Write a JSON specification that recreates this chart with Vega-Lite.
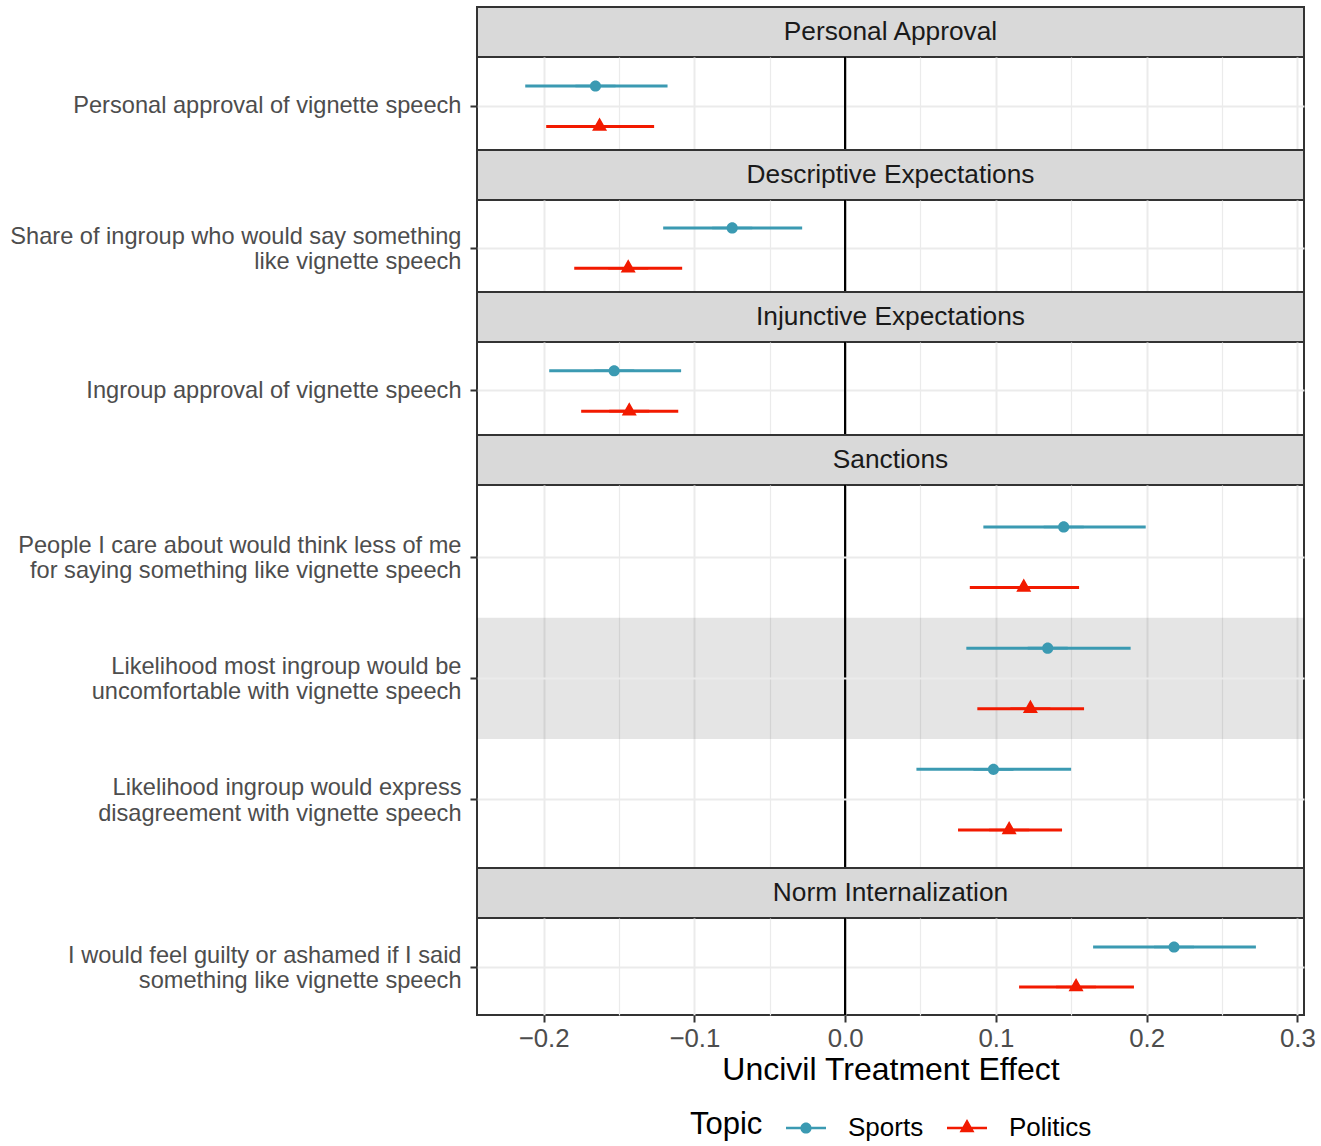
{
  "$schema": "https://vega.github.io/schema/vega-lite/v6.json",
  "padding": {"left": 8, "top": 6, "right": 16, "bottom": 0},
  "background": "white",
  "config": {
    "font": "Liberation Sans",
    "axis": {"labelFont": "Liberation Sans", "titleFont": "Liberation Sans"},
    "legend": {"labelFont": "Liberation Sans", "titleFont": "Liberation Sans"}
  },
  "datasets": {
    "effects": [
      {"panel": "Personal Approval", "item": "Personal approval of vignette speech", "Topic": "Sports", "est": -0.1656, "lo": -0.2122, "hi": -0.1178},
      {"panel": "Personal Approval", "item": "Personal approval of vignette speech", "Topic": "Politics", "est": -0.1629, "lo": -0.1983, "hi": -0.1267},
      {"panel": "Descriptive Expectations", "item": "Share of ingroup who would say something\nlike vignette speech", "Topic": "Sports", "est": -0.0749, "lo": -0.1207, "hi": -0.0285},
      {"panel": "Descriptive Expectations", "item": "Share of ingroup who would say something\nlike vignette speech", "Topic": "Politics", "est": -0.1439, "lo": -0.1797, "hi": -0.1081},
      {"panel": "Injunctive Expectations", "item": "Ingroup approval of vignette speech", "Topic": "Sports", "est": -0.1532, "lo": -0.1963, "hi": -0.1088},
      {"panel": "Injunctive Expectations", "item": "Ingroup approval of vignette speech", "Topic": "Politics", "est": -0.1432, "lo": -0.1751, "hi": -0.1107},
      {"panel": "Sanctions", "item": "People I care about would think less of me\nfor saying something like vignette speech", "Topic": "Sports", "est": 0.145, "lo": 0.0917, "hi": 0.1994},
      {"panel": "Sanctions", "item": "People I care about would think less of me\nfor saying something like vignette speech", "Topic": "Politics", "est": 0.1185, "lo": 0.0827, "hi": 0.1552},
      {"panel": "Sanctions", "item": "Likelihood most ingroup would be\nuncomfortable with vignette speech", "Topic": "Sports", "est": 0.1344, "lo": 0.0804, "hi": 0.1894},
      {"panel": "Sanctions", "item": "Likelihood most ingroup would be\nuncomfortable with vignette speech", "Topic": "Politics", "est": 0.1229, "lo": 0.0877, "hi": 0.1585},
      {"panel": "Sanctions", "item": "Likelihood ingroup would express\ndisagreement with vignette speech", "Topic": "Sports", "est": 0.0984, "lo": 0.0473, "hi": 0.1499},
      {"panel": "Sanctions", "item": "Likelihood ingroup would express\ndisagreement with vignette speech", "Topic": "Politics", "est": 0.1088, "lo": 0.0749, "hi": 0.1439},
      {"panel": "Norm Internalization", "item": "I would feel guilty or ashamed if I said\nsomething like vignette speech", "Topic": "Sports", "est": 0.2182, "lo": 0.1645, "hi": 0.2725},
      {"panel": "Norm Internalization", "item": "I would feel guilty or ashamed if I said\nsomething like vignette speech", "Topic": "Politics", "est": 0.1532, "lo": 0.1154, "hi": 0.1916}
    ],
    "highlight": [
      {"item": "Likelihood most ingroup would be\nuncomfortable with vignette speech"}
    ]
  },
  "vconcat": [
    {
      "width": 827, "height": 50,
      "view": {"fill": "#D9D9D9", "stroke": "#333333", "strokeWidth": 2},
      "data": {"values": [{"strip": "Personal Approval"}]},
      "mark": {"type": "text", "fontSize": 26.3, "color": "#1A1A1A"},
      "encoding": {"text": {"field": "strip"}}
    },
    {
      "width": 827, "height": 93,
      "view": {"stroke": "#333333", "strokeWidth": 2},
      "data": {"name": "effects"},
      "transform": [{"filter": "datum.panel === 'Personal Approval'"}],
      "layer": [
        {
          "data": {"values": [{}]},
          "mark": {"type": "rule", "color": "black", "strokeWidth": 2.2},
          "encoding": {"x": {"datum": 0, "type": "quantitative"}}
        },
        {
          "mark": {"type": "rule", "strokeWidth": 3},
          "encoding": {
            "x": {"field": "lo", "type": "quantitative", "scale": {"domain": [-0.2442, 0.3044], "nice": false, "zero": false},
              "axis": {"values": [-0.2, -0.15, -0.1, -0.05, 0, 0.05, 0.1, 0.15, 0.2, 0.25, 0.3], "labels": false, "ticks": false, "domain": false, "title": null, "grid": true, "gridColor": "#EBEBEB",
                "gridWidth": {"condition": {"test": "abs(round(datum.value*20)) % 2 === 1", "value": 1.2}, "value": 2}}},
            "x2": {"field": "hi"},
            "y": {"field": "item", "type": "nominal", "sort": null, "scale": {"type": "band", "paddingInner": 0, "paddingOuter": 0.076, "align": 0.72},
              "axis": {"title": null, "domain": false, "tickSize": 7, "tickWidth": 2, "tickColor": "#333333", "labelPadding": 9, "labelFontSize": 23.6, "labelColor": "#4D4D4D", "labelLineHeight": 25.5, "labelLimit": 600, "labelExpr": "split(datum.value, '\\n')",
                "labelOffset": {"condition": {"test": "indexof(datum.value, '\\n') >= 0", "value": -11.5}, "value": 0},
                "grid": true, "gridColor": "#EBEBEB", "gridWidth": 2, "bandPosition": 0.5}},
            "yOffset": {"field": "Topic", "type": "nominal", "sort": ["Sports", "Politics"], "scale": {"domain": ["Sports", "Politics"], "paddingInner": 0, "paddingOuter": 0}},
            "color": {"field": "Topic", "type": "nominal", "scale": {"domain": ["Sports", "Politics"], "range": ["#3B9AB2", "#F21A00"]}}
          }
        },
        {
          "mark": {"type": "point", "filled": true, "opacity": 1, "size": 1600, "strokeWidth": 0},
          "encoding": {
            "x": {"field": "est", "type": "quantitative"},
            "y": {"field": "item", "type": "nominal", "sort": null},
            "yOffset": {"field": "Topic", "type": "nominal", "sort": ["Sports", "Politics"], "scale": {"domain": ["Sports", "Politics"], "paddingInner": 0, "paddingOuter": 0}},
            "color": {"field": "Topic", "type": "nominal", "scale": {"domain": ["Sports", "Politics"], "range": ["#3B9AB2", "#F21A00"]}},
            "shape": {"field": "Topic", "type": "nominal", "scale": {"domain": ["Sports", "Politics"], "range": ["M-1,-0.065H-0.27V0.065H-1Z M0.27,-0.065H1V0.065H0.27Z M-0.28,0A0.28,0.28 0 1,1 0.28,0A0.28,0.28 0 1,1 -0.28,0Z", "M-1,-0.065H-0.2V0.065H-1Z M0.2,-0.065H1V0.065H0.2Z M0,-0.45L0.375,0.215L-0.375,0.215Z"]}}
          }
        }
      ]
    },
    {
      "width": 827, "height": 50,
      "view": {"fill": "#D9D9D9", "stroke": "#333333", "strokeWidth": 2},
      "data": {"values": [{"strip": "Descriptive Expectations"}]},
      "mark": {"type": "text", "fontSize": 26.3, "color": "#1A1A1A"},
      "encoding": {"text": {"field": "strip"}}
    },
    {
      "width": 827, "height": 92,
      "view": {"stroke": "#333333", "strokeWidth": 2},
      "data": {"name": "effects"},
      "transform": [{"filter": "datum.panel === 'Descriptive Expectations'"}],
      "layer": [
        {
          "data": {"values": [{}]},
          "mark": {"type": "rule", "color": "black", "strokeWidth": 2.2},
          "encoding": {"x": {"datum": 0, "type": "quantitative"}}
        },
        {
          "mark": {"type": "rule", "strokeWidth": 3},
          "encoding": {
            "x": {"field": "lo", "type": "quantitative", "scale": {"domain": [-0.2442, 0.3044], "nice": false, "zero": false},
              "axis": {"values": [-0.2, -0.15, -0.1, -0.05, 0, 0.05, 0.1, 0.15, 0.2, 0.25, 0.3], "labels": false, "ticks": false, "domain": false, "title": null, "grid": true, "gridColor": "#EBEBEB",
                "gridWidth": {"condition": {"test": "abs(round(datum.value*20)) % 2 === 1", "value": 1.2}, "value": 2}}},
            "x2": {"field": "hi"},
            "y": {"field": "item", "type": "nominal", "sort": null, "scale": {"type": "band", "paddingInner": 0, "paddingOuter": 0.07, "align": 0.69},
              "axis": {"title": null, "domain": false, "tickSize": 7, "tickWidth": 2, "tickColor": "#333333", "labelPadding": 9, "labelFontSize": 23.6, "labelColor": "#4D4D4D", "labelLineHeight": 25.5, "labelLimit": 600, "labelExpr": "split(datum.value, '\\n')",
                "labelOffset": {"condition": {"test": "indexof(datum.value, '\\n') >= 0", "value": -11.5}, "value": 0},
                "grid": true, "gridColor": "#EBEBEB", "gridWidth": 2, "bandPosition": 0.5}},
            "yOffset": {"field": "Topic", "type": "nominal", "sort": ["Sports", "Politics"], "scale": {"domain": ["Sports", "Politics"], "paddingInner": 0, "paddingOuter": 0}},
            "color": {"field": "Topic", "type": "nominal", "scale": {"domain": ["Sports", "Politics"], "range": ["#3B9AB2", "#F21A00"]}}
          }
        },
        {
          "mark": {"type": "point", "filled": true, "opacity": 1, "size": 1600, "strokeWidth": 0},
          "encoding": {
            "x": {"field": "est", "type": "quantitative"},
            "y": {"field": "item", "type": "nominal", "sort": null},
            "yOffset": {"field": "Topic", "type": "nominal", "sort": ["Sports", "Politics"], "scale": {"domain": ["Sports", "Politics"], "paddingInner": 0, "paddingOuter": 0}},
            "color": {"field": "Topic", "type": "nominal", "scale": {"domain": ["Sports", "Politics"], "range": ["#3B9AB2", "#F21A00"]}},
            "shape": {"field": "Topic", "type": "nominal", "scale": {"domain": ["Sports", "Politics"], "range": ["M-1,-0.065H-0.27V0.065H-1Z M0.27,-0.065H1V0.065H0.27Z M-0.28,0A0.28,0.28 0 1,1 0.28,0A0.28,0.28 0 1,1 -0.28,0Z", "M-1,-0.065H-0.2V0.065H-1Z M0.2,-0.065H1V0.065H0.2Z M0,-0.45L0.375,0.215L-0.375,0.215Z"]}}
          }
        }
      ]
    },
    {
      "width": 827, "height": 50,
      "view": {"fill": "#D9D9D9", "stroke": "#333333", "strokeWidth": 2},
      "data": {"values": [{"strip": "Injunctive Expectations"}]},
      "mark": {"type": "text", "fontSize": 26.3, "color": "#1A1A1A"},
      "encoding": {"text": {"field": "strip"}}
    },
    {
      "width": 827, "height": 93,
      "view": {"stroke": "#333333", "strokeWidth": 2},
      "data": {"name": "effects"},
      "transform": [{"filter": "datum.panel === 'Injunctive Expectations'"}],
      "layer": [
        {
          "data": {"values": [{}]},
          "mark": {"type": "rule", "color": "black", "strokeWidth": 2.2},
          "encoding": {"x": {"datum": 0, "type": "quantitative"}}
        },
        {
          "mark": {"type": "rule", "strokeWidth": 3},
          "encoding": {
            "x": {"field": "lo", "type": "quantitative", "scale": {"domain": [-0.2442, 0.3044], "nice": false, "zero": false},
              "axis": {"values": [-0.2, -0.15, -0.1, -0.05, 0, 0.05, 0.1, 0.15, 0.2, 0.25, 0.3], "labels": false, "ticks": false, "domain": false, "title": null, "grid": true, "gridColor": "#EBEBEB",
                "gridWidth": {"condition": {"test": "abs(round(datum.value*20)) % 2 === 1", "value": 1.2}, "value": 2}}},
            "x2": {"field": "hi"},
            "y": {"field": "item", "type": "nominal", "sort": null, "scale": {"type": "band", "paddingInner": 0, "paddingOuter": 0.076, "align": 0.7},
              "axis": {"title": null, "domain": false, "tickSize": 7, "tickWidth": 2, "tickColor": "#333333", "labelPadding": 9, "labelFontSize": 23.6, "labelColor": "#4D4D4D", "labelLineHeight": 25.5, "labelLimit": 600, "labelExpr": "split(datum.value, '\\n')",
                "labelOffset": {"condition": {"test": "indexof(datum.value, '\\n') >= 0", "value": -11.5}, "value": 0},
                "grid": true, "gridColor": "#EBEBEB", "gridWidth": 2, "bandPosition": 0.5}},
            "yOffset": {"field": "Topic", "type": "nominal", "sort": ["Sports", "Politics"], "scale": {"domain": ["Sports", "Politics"], "paddingInner": 0, "paddingOuter": 0}},
            "color": {"field": "Topic", "type": "nominal", "scale": {"domain": ["Sports", "Politics"], "range": ["#3B9AB2", "#F21A00"]}}
          }
        },
        {
          "mark": {"type": "point", "filled": true, "opacity": 1, "size": 1600, "strokeWidth": 0},
          "encoding": {
            "x": {"field": "est", "type": "quantitative"},
            "y": {"field": "item", "type": "nominal", "sort": null},
            "yOffset": {"field": "Topic", "type": "nominal", "sort": ["Sports", "Politics"], "scale": {"domain": ["Sports", "Politics"], "paddingInner": 0, "paddingOuter": 0}},
            "color": {"field": "Topic", "type": "nominal", "scale": {"domain": ["Sports", "Politics"], "range": ["#3B9AB2", "#F21A00"]}},
            "shape": {"field": "Topic", "type": "nominal", "scale": {"domain": ["Sports", "Politics"], "range": ["M-1,-0.065H-0.27V0.065H-1Z M0.27,-0.065H1V0.065H0.27Z M-0.28,0A0.28,0.28 0 1,1 0.28,0A0.28,0.28 0 1,1 -0.28,0Z", "M-1,-0.065H-0.2V0.065H-1Z M0.2,-0.065H1V0.065H0.2Z M0,-0.45L0.375,0.215L-0.375,0.215Z"]}}
          }
        }
      ]
    },
    {
      "width": 827, "height": 50,
      "view": {"fill": "#D9D9D9", "stroke": "#333333", "strokeWidth": 2},
      "data": {"values": [{"strip": "Sanctions"}]},
      "mark": {"type": "text", "fontSize": 26.3, "color": "#1A1A1A"},
      "encoding": {"text": {"field": "strip"}}
    },
    {
      "width": 827, "height": 383,
      "view": {"stroke": "#333333", "strokeWidth": 2},
      "data": {"name": "effects"},
      "transform": [{"filter": "datum.panel === 'Sanctions'"}],
      "layer": [
        {
          "data": {"name": "highlight"},
          "mark": {"type": "rect", "color": "black", "opacity": 0.1},
          "encoding": {
            "y": {"field": "item", "type": "nominal"},
            "x": {"value": 0},
            "x2": {"value": "width"}
          }
        },
        {
          "data": {"values": [{}]},
          "mark": {"type": "rule", "color": "black", "strokeWidth": 2.2},
          "encoding": {"x": {"datum": 0, "type": "quantitative"}}
        },
        {
          "mark": {"type": "rule", "strokeWidth": 3},
          "encoding": {
            "x": {"field": "lo", "type": "quantitative", "scale": {"domain": [-0.2442, 0.3044], "nice": false, "zero": false},
              "axis": {"values": [-0.2, -0.15, -0.1, -0.05, 0, 0.05, 0.1, 0.15, 0.2, 0.25, 0.3], "labels": false, "ticks": false, "domain": false, "title": null, "grid": true, "gridColor": "#EBEBEB",
                "gridWidth": {"condition": {"test": "abs(round(datum.value*20)) % 2 === 1", "value": 1.2}, "value": 2}}},
            "x2": {"field": "hi"},
            "y": {"field": "item", "type": "nominal", "sort": null,
              "scale": {"type": "band", "paddingInner": 0, "paddingOuter": 0.08, "align": 0.6,
                "domain": ["People I care about would think less of me\nfor saying something like vignette speech", "Likelihood most ingroup would be\nuncomfortable with vignette speech", "Likelihood ingroup would express\ndisagreement with vignette speech"]},
              "axis": {"title": null, "domain": false, "tickSize": 7, "tickWidth": 2, "tickColor": "#333333", "labelPadding": 9, "labelFontSize": 23.6, "labelColor": "#4D4D4D", "labelLineHeight": 25.5, "labelLimit": 600, "labelExpr": "split(datum.value, '\\n')",
                "labelOffset": {"condition": {"test": "indexof(datum.value, '\\n') >= 0", "value": -11.5}, "value": 0},
                "grid": true, "gridColor": "#EBEBEB", "gridWidth": 2, "bandPosition": 0.5}},
            "yOffset": {"field": "Topic", "type": "nominal", "sort": ["Sports", "Politics"], "scale": {"domain": ["Sports", "Politics"], "paddingInner": 0, "paddingOuter": 0}},
            "color": {"field": "Topic", "type": "nominal", "scale": {"domain": ["Sports", "Politics"], "range": ["#3B9AB2", "#F21A00"]}}
          }
        },
        {
          "mark": {"type": "point", "filled": true, "opacity": 1, "size": 1600, "strokeWidth": 0},
          "encoding": {
            "x": {"field": "est", "type": "quantitative"},
            "y": {"field": "item", "type": "nominal", "sort": null},
            "yOffset": {"field": "Topic", "type": "nominal", "sort": ["Sports", "Politics"], "scale": {"domain": ["Sports", "Politics"], "paddingInner": 0, "paddingOuter": 0}},
            "color": {"field": "Topic", "type": "nominal", "scale": {"domain": ["Sports", "Politics"], "range": ["#3B9AB2", "#F21A00"]}},
            "shape": {"field": "Topic", "type": "nominal", "scale": {"domain": ["Sports", "Politics"], "range": ["M-1,-0.065H-0.27V0.065H-1Z M0.27,-0.065H1V0.065H0.27Z M-0.28,0A0.28,0.28 0 1,1 0.28,0A0.28,0.28 0 1,1 -0.28,0Z", "M-1,-0.065H-0.2V0.065H-1Z M0.2,-0.065H1V0.065H0.2Z M0,-0.45L0.375,0.215L-0.375,0.215Z"]}}
          }
        }
      ]
    },
    {
      "width": 827, "height": 50,
      "view": {"fill": "#D9D9D9", "stroke": "#333333", "strokeWidth": 2},
      "data": {"values": [{"strip": "Norm Internalization"}]},
      "mark": {"type": "text", "fontSize": 26.3, "color": "#1A1A1A"},
      "encoding": {"text": {"field": "strip"}}
    },
    {
      "width": 827, "height": 97,
      "view": {"stroke": "#333333", "strokeWidth": 2},
      "data": {"name": "effects"},
      "transform": [{"filter": "datum.panel === 'Norm Internalization'"}],
      "layer": [
        {
          "data": {"values": [{}]},
          "mark": {"type": "rule", "color": "black", "strokeWidth": 2.2},
          "encoding": {"x": {"datum": 0, "type": "quantitative"}}
        },
        {
          "mark": {"type": "rule", "strokeWidth": 3},
          "encoding": {
            "x": {"field": "lo", "type": "quantitative", "scale": {"domain": [-0.2442, 0.3044], "nice": false, "zero": false},
              "axis": {"values": [-0.2, -0.15, -0.1, -0.05, 0, 0.05, 0.1, 0.15, 0.2, 0.25, 0.3], "format": ".1f",
                "labelExpr": "abs(round(datum.value*20)) % 2 === 1 ? '' : datum.label",
                "labelFontSize": 25.8, "labelColor": "#4D4D4D", "labelPadding": 4.5, "labelFlush": false, "labelOverlap": false,
                "ticks": true, "tickSize": 7, "tickWidth": 2, "tickColor": "#333333",
                "tickOpacity": {"condition": {"test": "abs(round(datum.value*20)) % 2 === 1", "value": 0}, "value": 1},
                "domain": false, "grid": true, "gridColor": "#EBEBEB",
                "gridWidth": {"condition": {"test": "abs(round(datum.value*20)) % 2 === 1", "value": 1.2}, "value": 2},
                "title": "Uncivil Treatment Effect", "titleFontSize": 32, "titleFontWeight": "normal", "titleColor": "black", "titlePadding": 3}},
            "x2": {"field": "hi"},
            "y": {"field": "item", "type": "nominal", "sort": null, "scale": {"type": "band", "paddingInner": 0, "paddingOuter": 0.106, "align": 0.53},
              "axis": {"title": null, "domain": false, "tickSize": 7, "tickWidth": 2, "tickColor": "#333333", "labelPadding": 9, "labelFontSize": 23.6, "labelColor": "#4D4D4D", "labelLineHeight": 25.5, "labelLimit": 600, "labelExpr": "split(datum.value, '\\n')",
                "labelOffset": {"condition": {"test": "indexof(datum.value, '\\n') >= 0", "value": -11.5}, "value": 0},
                "grid": true, "gridColor": "#EBEBEB", "gridWidth": 2, "bandPosition": 0.5}},
            "yOffset": {"field": "Topic", "type": "nominal", "sort": ["Sports", "Politics"], "scale": {"domain": ["Sports", "Politics"], "paddingInner": 0, "paddingOuter": 0}},
            "color": {"field": "Topic", "type": "nominal", "scale": {"domain": ["Sports", "Politics"], "range": ["#3B9AB2", "#F21A00"]}}
          }
        },
        {
          "mark": {"type": "point", "filled": true, "opacity": 1, "size": 1600, "strokeWidth": 0},
          "encoding": {
            "x": {"field": "est", "type": "quantitative"},
            "y": {"field": "item", "type": "nominal", "sort": null},
            "yOffset": {"field": "Topic", "type": "nominal", "sort": ["Sports", "Politics"], "scale": {"domain": ["Sports", "Politics"], "paddingInner": 0, "paddingOuter": 0}},
            "color": {"field": "Topic", "type": "nominal", "scale": {"domain": ["Sports", "Politics"], "range": ["#3B9AB2", "#F21A00"]},
              "legend": {
                "title": "Topic", "orient": "none", "legendX": 213, "legendY": 1101,
                "direction": "horizontal", "titleOrient": "left", "titleFontSize": 31, "titleFontWeight": "normal", "titleColor": "black",
                "titlePadding": 23, "labelFontSize": 26, "labelColor": "black", "labelOffset": 22, "columnPadding": 23, "padding": 0,
                "symbolSize": 1600, "symbolStrokeWidth": 0, "symbolOpacity": 1
              }},
            "shape": {"field": "Topic", "type": "nominal", "scale": {"domain": ["Sports", "Politics"], "range": ["M-1,-0.065H-0.27V0.065H-1Z M0.27,-0.065H1V0.065H0.27Z M-0.28,0A0.28,0.28 0 1,1 0.28,0A0.28,0.28 0 1,1 -0.28,0Z", "M-1,-0.065H-0.2V0.065H-1Z M0.2,-0.065H1V0.065H0.2Z M0,-0.45L0.375,0.215L-0.375,0.215Z"]}}
          }
        }
      ]
    }
  ],
  "spacing": 0,
  "bounds": "flush",
  "resolve": {"scale": {"x": "independent", "y": "independent", "yOffset": "independent"}}
}
